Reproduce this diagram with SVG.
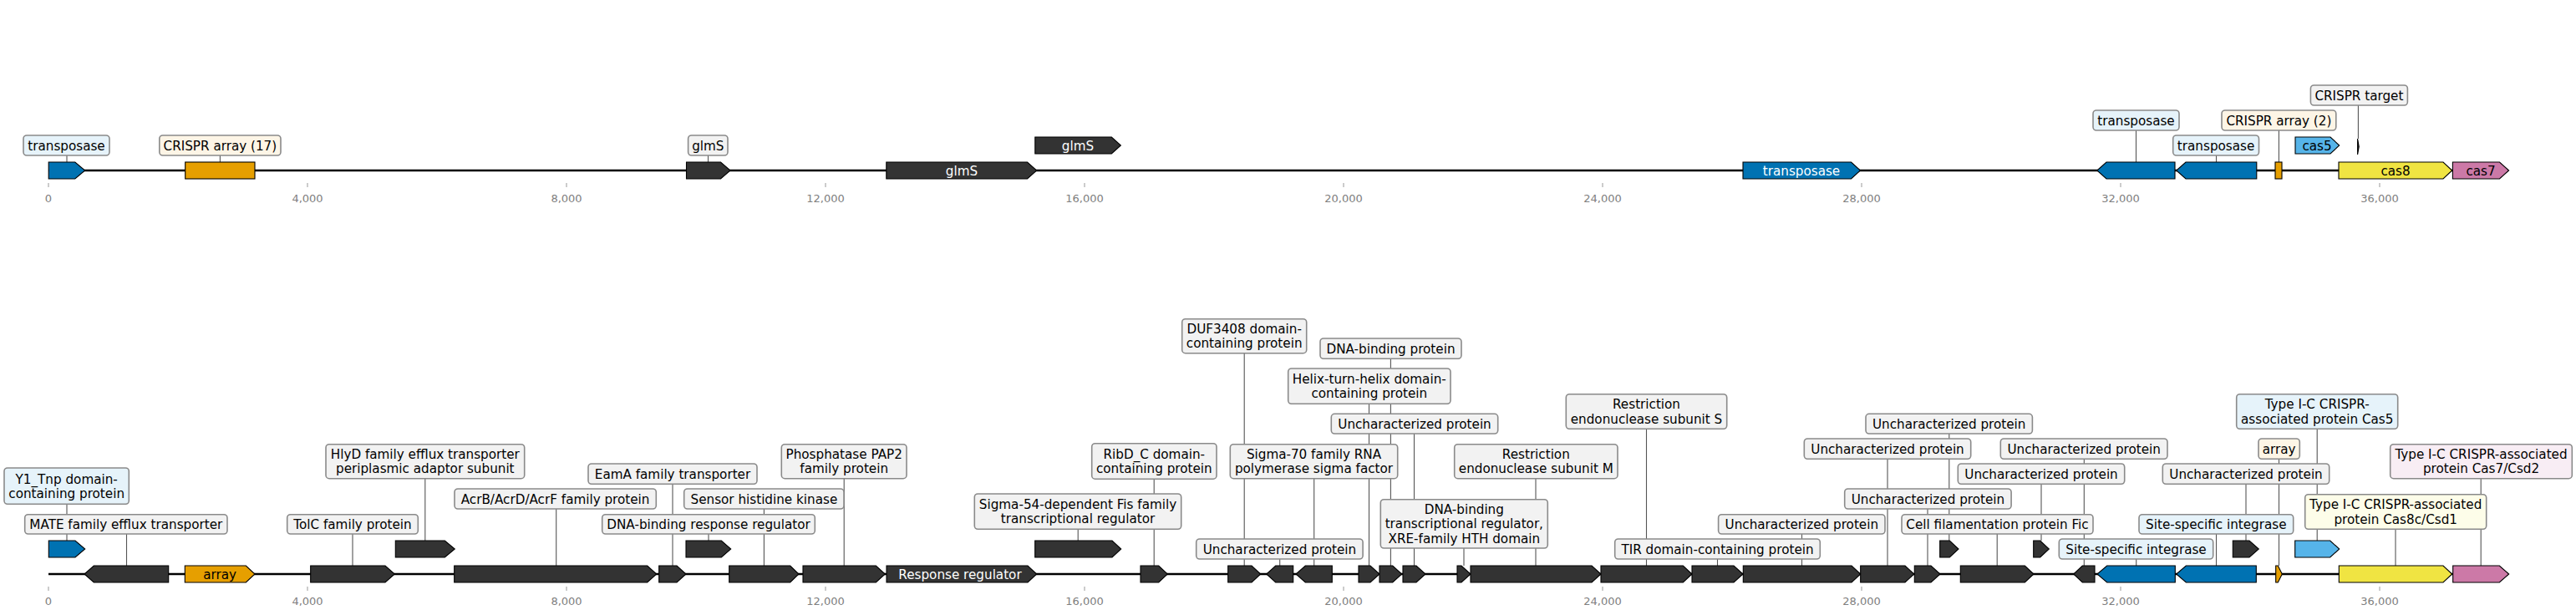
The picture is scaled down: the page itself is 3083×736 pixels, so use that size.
<svg xmlns="http://www.w3.org/2000/svg" width="3083" height="736" viewBox="0 0 3083 736">
<style>
text{font-family:"DejaVu Sans","Liberation Sans",sans-serif}
.g{stroke:#000;stroke-width:1.1;stroke-linejoin:miter}
.dark{fill:#333333}.blue{fill:#0072B2}.orange{fill:#E69F00}.lblue{fill:#56B4E9}.yellow{fill:#F0E442}.pink{fill:#CC79A7}
.box{stroke:#8a8a8a;stroke-width:1.6;fill:#f2f2f2}
.bb{fill:#e6f3fa}.bc{fill:#fdf5e6}.by{fill:#fdfde9}.bp{fill:#f8edf4}
.lbl{font-size:15.2px;text-anchor:middle;fill:#000}
.w{fill:#fff}
.leader{stroke:#555;stroke-width:1.1;fill:none}
.axis{stroke:#000;stroke-width:2.6}
.tick{stroke:#999;stroke-width:1}
.tl{font-size:13px;text-anchor:middle;fill:#808080}
</style>
<rect width="3083" height="736" fill="#fff"/>

<g id="axes">
<line class="axis" x1="58" y1="204" x2="3002" y2="204"/>
<line class="axis" x1="58" y1="687" x2="3002" y2="687"/>
<g class="tick">
<line x1="58" y1="219" x2="58" y2="224"/><line x1="368" y1="219" x2="368" y2="224"/><line x1="678" y1="219" x2="678" y2="224"/><line x1="988" y1="219" x2="988" y2="224"/><line x1="1298" y1="219" x2="1298" y2="224"/><line x1="1608" y1="219" x2="1608" y2="224"/><line x1="1918" y1="219" x2="1918" y2="224"/><line x1="2228" y1="219" x2="2228" y2="224"/><line x1="2538" y1="219" x2="2538" y2="224"/><line x1="2848" y1="219" x2="2848" y2="224"/>
<line x1="58" y1="702" x2="58" y2="707"/><line x1="368" y1="702" x2="368" y2="707"/><line x1="678" y1="702" x2="678" y2="707"/><line x1="988" y1="702" x2="988" y2="707"/><line x1="1298" y1="702" x2="1298" y2="707"/><line x1="1608" y1="702" x2="1608" y2="707"/><line x1="1918" y1="702" x2="1918" y2="707"/><line x1="2228" y1="702" x2="2228" y2="707"/><line x1="2538" y1="702" x2="2538" y2="707"/><line x1="2848" y1="702" x2="2848" y2="707"/>
</g>
<g class="tl">
<text x="58" y="241.5">0</text><text x="368" y="241.5">4,000</text><text x="678" y="241.5">8,000</text><text x="988" y="241.5">12,000</text><text x="1298" y="241.5">16,000</text><text x="1608" y="241.5">20,000</text><text x="1918" y="241.5">24,000</text><text x="2228" y="241.5">28,000</text><text x="2538" y="241.5">32,000</text><text x="2848" y="241.5">36,000</text>
<text x="58" y="724">0</text><text x="368" y="724">4,000</text><text x="678" y="724">8,000</text><text x="988" y="724">12,000</text><text x="1298" y="724">16,000</text><text x="1608" y="724">20,000</text><text x="1918" y="724">24,000</text><text x="2228" y="724">28,000</text><text x="2538" y="724">32,000</text><text x="2848" y="724">36,000</text>
</g>
</g>

<g id="connectors" class="leader">
<line x1="80" y1="186" x2="80" y2="194"/>
<line x1="263.4" y1="186" x2="263.4" y2="194"/>
<line x1="847.5" y1="186" x2="847.5" y2="194"/>
<line x1="2556.5" y1="156" x2="2556.5" y2="194"/>
<line x1="2652.5" y1="186" x2="2652.5" y2="194"/>
<line x1="2727.4" y1="156" x2="2727.4" y2="194"/>
<line x1="2822.4" y1="126" x2="2822.4" y2="166"/>

<line x1="80" y1="603" x2="80" y2="647"/>
<line x1="151.5" y1="639" x2="151.5" y2="677"/>
<line x1="422" y1="639" x2="422" y2="677"/>
<line x1="508.8" y1="572.7" x2="508.8" y2="647"/>
<line x1="665.7" y1="609" x2="665.7" y2="677"/>
<line x1="805" y1="579.3" x2="805" y2="677"/>
<line x1="848" y1="639" x2="848" y2="647"/>
<line x1="914.4" y1="609" x2="914.4" y2="677"/>
<line x1="1010.2" y1="572.7" x2="1010.2" y2="677"/>
<line x1="1290.2" y1="633.3" x2="1290.2" y2="647"/>
<line x1="1381.2" y1="572.7" x2="1381.2" y2="677"/>
<line x1="1489.2" y1="422.7" x2="1489.2" y2="677"/>
<line x1="1531.7" y1="669" x2="1531.7" y2="677"/>
<line x1="1572.7" y1="572.7" x2="1572.7" y2="677"/>
<line x1="1638.5" y1="483.3" x2="1638.5" y2="677"/>
<line x1="1664.4" y1="429.3" x2="1664.4" y2="677"/>
<line x1="1692.5" y1="519" x2="1692.5" y2="677"/>
<line x1="1752" y1="656" x2="1752" y2="677"/>
<line x1="1838" y1="572.7" x2="1838" y2="677"/>
<line x1="1970.5" y1="513.3" x2="1970.5" y2="677"/>
<line x1="2055.5" y1="669" x2="2055.5" y2="677"/>
<line x1="2156.5" y1="639" x2="2156.5" y2="677"/>
<line x1="2259" y1="549.3" x2="2259" y2="677"/>
<line x1="2307" y1="609" x2="2307" y2="677"/>
<line x1="2332.8" y1="519" x2="2332.8" y2="647"/>
<line x1="2390.2" y1="639" x2="2390.2" y2="677"/>
<line x1="2443" y1="579.3" x2="2443" y2="647"/>
<line x1="2494.3" y1="549.3" x2="2494.3" y2="677"/>
<line x1="2556.7" y1="669" x2="2556.7" y2="677"/>
<line x1="2652.5" y1="639" x2="2652.5" y2="677"/>
<line x1="2688" y1="579.3" x2="2688" y2="647"/>
<line x1="2727.5" y1="549.3" x2="2727.5" y2="677"/>
<line x1="2773.2" y1="513.3" x2="2773.2" y2="647"/>
<line x1="2867" y1="633.3" x2="2867" y2="677"/>
<line x1="2969.2" y1="572.7" x2="2969.2" y2="677"/>
</g>

<!-- TOP TRACK -->
<g id="t-transposase-1">
<polygon class="g blue" points="58.2,194 89.8,194 101.7,204 89.8,214 58.2,214"/>
<rect class="box bb" x="28" y="162" width="103" height="24" rx="4"/>
<text class="lbl" x="79.5" y="179.5">transposase</text>
</g>
<g id="t-crispr-array-17">
<rect class="g orange" x="221.7" y="194" width="83.3" height="20"/>
<rect class="box bc" x="190.8" y="162" width="145.2" height="24" rx="4"/>
<text class="lbl" x="263.4" y="179.5">CRISPR array (17)</text>
</g>
<g id="t-glmS-1">
<polygon class="g dark" points="821.5,194 862.5,194 874,204 862.5,214 821.5,214"/>
<rect class="box" x="823.6" y="162" width="47.4" height="24" rx="4"/>
<text class="lbl" x="847.3" y="179.5">glmS</text>
</g>
<g id="t-glmS-2">
<polygon class="g dark" points="1060.8,194 1229.5,194 1240.7,204 1229.5,214 1060.8,214"/>
<text class="lbl w" x="1151" y="209.5">glmS</text>
</g>
<g id="t-glmS-3">
<polygon class="g dark" points="1238.8,164 1330.3,164 1341.4,174 1330.3,184 1238.8,184"/>
<text class="lbl w" x="1290" y="179.5">glmS</text>
</g>
<g id="t-transposase-2">
<polygon class="g blue" points="2086,194 2215.5,194 2226.5,204 2215.5,214 2086,214"/>
<text class="lbl w" x="2156" y="209.5">transposase</text>
</g>
<g id="t-transposase-3">
<polygon class="g blue" points="2603,194 2521,194 2509.8,204 2521,214 2603,214"/>
<rect class="box bb" x="2505" y="132" width="103" height="24" rx="4"/>
<text class="lbl" x="2556.5" y="149.5">transposase</text>
</g>
<g id="t-transposase-4">
<polygon class="g blue" points="2700.8,194 2616,194 2604.7,204 2616,214 2700.8,214"/>
<rect class="box bb" x="2600.7" y="162" width="102.8" height="24" rx="4"/>
<text class="lbl" x="2652.1" y="179.5">transposase</text>
</g>
<g id="t-crispr-array-2">
<rect class="g orange" x="2723" y="194" width="8" height="20"/>
<rect class="box bc" x="2659" y="132" width="136.8" height="24" rx="4"/>
<text class="lbl" x="2727.4" y="149.5">CRISPR array (2)</text>
</g>
<g id="t-cas5">
<polygon class="g lblue" points="2747,164 2789,164 2799.7,174 2789,184 2747,184"/>
<text class="lbl" x="2773" y="179.5">cas5</text>
</g>
<g id="t-crispr-target">
<polygon class="g dark" points="2821.6,166 2823.2,175.5 2821.6,185"/>
<rect class="box" x="2765.4" y="102" width="116" height="24" rx="4"/>
<text class="lbl" x="2823.4" y="119.5">CRISPR target</text>
</g>
<g id="t-cas8">
<polygon class="g yellow" points="2799,194 2924,194 2934.7,204 2924,214 2799,214"/>
<text class="lbl" x="2867" y="209.5">cas8</text>
</g>
<g id="t-cas7">
<polygon class="g pink" points="2935.4,194 2991.5,194 3002.6,204 2991.5,214 2935.4,214"/>
<text class="lbl" x="2969" y="209.5">cas7</text>
</g>

<!-- BOTTOM TRACK -->
<g id="b-y1tnp">
<polygon class="g blue" points="58.3,647 90,647 101.7,657 90,667 58.3,667"/>
<rect class="box bb" x="5" y="560" width="149.3" height="43.3" rx="4"/>
<text class="lbl" x="79.7" y="578.5">Y1_Tnp domain-</text>
<text class="lbl" x="79.7" y="595.9">containing protein</text>
</g>
<g id="b-mate">
<polygon class="g dark" points="201.7,677 112.3,677 101,687 112.3,697 201.7,697"/>
<rect class="box" x="29.7" y="615.7" width="242.3" height="23.3" rx="4"/>
<text class="lbl" x="150.8" y="632.9">MATE family efflux transporter</text>
</g>
<g id="b-array">
<polygon class="g orange" points="221.3,677 294.3,677 305,687 294.3,697 221.3,697"/>
<text class="lbl" x="263.2" y="692.5">array</text>
</g>
<g id="b-tolc">
<polygon class="g dark" points="371.7,677 461,677 472.3,687 461,697 371.7,697"/>
<rect class="box" x="343.7" y="615.7" width="156.6" height="23.3" rx="4"/>
<text class="lbl" x="422" y="632.9">TolC family protein</text>
</g>
<g id="b-hlyd">
<polygon class="g dark" points="473.3,647 532.3,647 544.3,657 532.3,667 473.3,667"/>
<rect class="box" x="390" y="531.7" width="237.7" height="41" rx="4"/>
<text class="lbl" x="508.8" y="549">HlyD family efflux transporter</text>
<text class="lbl" x="508.8" y="566.4">periplasmic adaptor subunit</text>
</g>
<g id="b-acrb">
<polygon class="g dark" points="543.7,677 774.7,677 785.7,687 774.7,697 543.7,697"/>
<rect class="box" x="544" y="585" width="241.3" height="24" rx="4"/>
<text class="lbl" x="664.6" y="602.5">AcrB/AcrD/AcrF family protein</text>
</g>
<g id="b-eama">
<polygon class="g dark" points="788.7,677 810,677 821,687 810,697 788.7,697"/>
<rect class="box" x="704" y="555" width="202" height="24.3" rx="4"/>
<text class="lbl" x="805" y="572.7">EamA family transporter</text>
</g>
<g id="b-dnabinding-rr">
<polygon class="g dark" points="821,647 863.3,647 874.7,657 863.3,667 821,667"/>
<rect class="box" x="720.7" y="615.7" width="254.6" height="23.3" rx="4"/>
<text class="lbl" x="848" y="632.9">DNA-binding response regulator</text>
</g>
<g id="b-sensor">
<polygon class="g dark" points="872.7,677 945.7,677 956,687 945.7,697 872.7,697"/>
<rect class="box" x="818.7" y="585" width="191.3" height="24" rx="4"/>
<text class="lbl" x="914.4" y="602.5">Sensor histidine kinase</text>
</g>
<g id="b-pap2">
<polygon class="g dark" points="961,677 1048.3,677 1059.3,687 1048.3,697 961,697"/>
<rect class="box" x="935.3" y="531.7" width="149.7" height="41" rx="4"/>
<text class="lbl" x="1010.2" y="549">Phosphatase PAP2</text>
<text class="lbl" x="1010.2" y="566.4">family protein</text>
</g>
<g id="b-response-regulator">
<polygon class="g dark" points="1061,677 1230,677 1240.7,687 1230,697 1061,697"/>
<text class="lbl w" x="1149" y="692.5">Response regulator</text>
</g>
<g id="b-sigma54">
<polygon class="g dark" points="1238.7,647 1331,647 1341.7,657 1331,667 1238.7,667"/>
<rect class="box" x="1166.3" y="591" width="247.4" height="42.3" rx="4"/>
<text class="lbl" x="1290" y="609">Sigma-54-dependent Fis family</text>
<text class="lbl" x="1290" y="626.4">transcriptional regulator</text>
</g>
<g id="b-ribd">
<polygon class="g dark" points="1365,677 1386.7,677 1397.3,687 1386.7,697 1365,697"/>
<rect class="box" x="1306.7" y="530.7" width="149.3" height="42.5" rx="4"/>
<text class="lbl" x="1381.3" y="548.5">RibD_C domain-</text>
<text class="lbl" x="1381.3" y="565.9">containing protein</text>
</g>
<g id="b-duf3408">
<polygon class="g dark" points="1469.7,677 1498,677 1508.7,687 1498,697 1469.7,697"/>
<rect class="box" x="1414.7" y="381.7" width="149" height="41" rx="4"/>
<text class="lbl" x="1489.2" y="399">DUF3408 domain-</text>
<text class="lbl" x="1489.2" y="416.4">containing protein</text>
</g>
<g id="b-unchar-1">
<polygon class="g dark" points="1547.7,677 1526.7,677 1515.7,687 1526.7,697 1547.7,697"/>
<rect class="box" x="1431.7" y="645" width="199.4" height="24" rx="4"/>
<text class="lbl" x="1531.4" y="662.5">Uncharacterized protein</text>
</g>
<g id="b-sigma70">
<polygon class="g dark" points="1594.3,677 1562.3,677 1551,687 1562.3,697 1594.3,697"/>
<rect class="box" x="1472.3" y="531.7" width="200.4" height="41" rx="4"/>
<text class="lbl" x="1572.5" y="549">Sigma-70 family RNA</text>
<text class="lbl" x="1572.5" y="566.4">polymerase sigma factor</text>
</g>
<g id="b-hth">
<polygon class="g dark" points="1626,677 1640,677 1651,687 1640,697 1626,697"/>
<rect class="box" x="1541.7" y="441" width="194.3" height="42.3" rx="4"/>
<text class="lbl" x="1638.8" y="459">Helix-turn-helix domain-</text>
<text class="lbl" x="1638.8" y="476.4">containing protein</text>
</g>
<g id="b-dnabinding-protein">
<polygon class="g dark" points="1651,677 1666.7,677 1677.7,687 1666.7,697 1651,697"/>
<rect class="box" x="1580" y="405" width="169" height="24.3" rx="4"/>
<text class="lbl" x="1664.5" y="422.7">DNA-binding protein</text>
</g>
<g id="b-unchar-2">
<polygon class="g dark" points="1679,677 1695,677 1706,687 1695,697 1679,697"/>
<rect class="box" x="1593.3" y="495.3" width="199.4" height="23.7" rx="4"/>
<text class="lbl" x="1693" y="512.7">Uncharacterized protein</text>
</g>
<g id="b-xre">
<polygon class="g dark" points="1744,677 1749,677 1760,687 1749,697 1744,697"/>
<rect class="box" x="1652.3" y="597.7" width="200" height="58.3" rx="4"/>
<text class="lbl" x="1752.3" y="615">DNA-binding</text>
<text class="lbl" x="1752.3" y="632.4">transcriptional regulator,</text>
<text class="lbl" x="1752.3" y="649.8">XRE-family HTH domain</text>
</g>
<g id="b-restriction-m">
<polygon class="g dark" points="1760,677 1905,677 1916,687 1905,697 1760,697"/>
<rect class="box" x="1740.7" y="531.7" width="195.3" height="41" rx="4"/>
<text class="lbl" x="1838.3" y="549">Restriction</text>
<text class="lbl" x="1838.3" y="566.4">endonuclease subunit M</text>
</g>
<g id="b-restriction-s">
<polygon class="g dark" points="1916,677 2014.3,677 2025,687 2014.3,697 1916,697"/>
<rect class="box" x="1874.3" y="471.7" width="192.4" height="41.6" rx="4"/>
<text class="lbl" x="1970.5" y="489.3">Restriction</text>
<text class="lbl" x="1970.5" y="506.7">endonuclease subunit S</text>
</g>
<g id="b-tir">
<polygon class="g dark" points="2025,677 2075,677 2086,687 2075,697 2025,697"/>
<rect class="box" x="1932.7" y="645" width="245.6" height="24" rx="4"/>
<text class="lbl" x="2055.5" y="662.5">TIR domain-containing protein</text>
</g>
<g id="b-unchar-3">
<polygon class="g dark" points="2086.3,677 2216,677 2226.7,687 2216,697 2086.3,697"/>
<rect class="box" x="2056.6" y="615.7" width="199.4" height="23.3" rx="4"/>
<text class="lbl" x="2156.3" y="632.9">Uncharacterized protein</text>
</g>
<g id="b-unchar-4">
<polygon class="g dark" points="2226.7,677 2280,677 2290.7,687 2280,697 2226.7,697"/>
<rect class="box" x="2159.3" y="525" width="199.4" height="24.3" rx="4"/>
<text class="lbl" x="2259" y="542.7">Uncharacterized protein</text>
</g>
<g id="b-unchar-5">
<polygon class="g dark" points="2291.3,677 2311,677 2322,687 2311,697 2291.3,697"/>
<rect class="box" x="2207.7" y="585" width="199.4" height="24" rx="4"/>
<text class="lbl" x="2307.4" y="602.5">Uncharacterized protein</text>
</g>
<g id="b-unchar-6">
<polygon class="g dark" points="2321.7,647 2333.3,647 2344,657 2333.3,667 2321.7,667"/>
<rect class="box" x="2233" y="495.3" width="199.4" height="23.7" rx="4"/>
<text class="lbl" x="2332.7" y="512.7">Uncharacterized protein</text>
</g>
<g id="b-fic">
<polygon class="g dark" points="2346.3,677 2423.3,677 2434,687 2423.3,697 2346.3,697"/>
<rect class="box" x="2276" y="615.7" width="229" height="23.3" rx="4"/>
<text class="lbl" x="2390.5" y="632.9">Cell filamentation protein Fic</text>
</g>
<g id="b-unchar-7">
<polygon class="g dark" points="2433.7,647 2441.7,647 2452.3,657 2441.7,667 2433.7,667"/>
<rect class="box" x="2343.3" y="555" width="199.4" height="24.3" rx="4"/>
<text class="lbl" x="2443" y="572.7">Uncharacterized protein</text>
</g>
<g id="b-unchar-8">
<polygon class="g dark" points="2507,677 2492.3,677 2481.7,687 2492.3,697 2507,697"/>
<rect class="box" x="2394.3" y="525" width="199.7" height="24.3" rx="4"/>
<text class="lbl" x="2494.2" y="542.7">Uncharacterized protein</text>
</g>
<g id="b-integrase-1">
<polygon class="g blue" points="2603.3,677 2521.7,677 2510,687 2521.7,697 2603.3,697"/>
<rect class="box bb" x="2464.3" y="645" width="184.4" height="24" rx="4"/>
<text class="lbl" x="2556.5" y="662.5">Site-specific integrase</text>
</g>
<g id="b-integrase-2">
<polygon class="g blue" points="2700.3,677 2616.3,677 2604.7,687 2616.3,697 2700.3,697"/>
<rect class="box bb" x="2560" y="615.7" width="184.7" height="23.3" rx="4"/>
<text class="lbl" x="2652.3" y="632.9">Site-specific integrase</text>
</g>
<g id="b-unchar-9">
<polygon class="g dark" points="2672.3,647 2692,647 2703.3,657 2692,667 2672.3,667"/>
<rect class="box" x="2588.3" y="555" width="199.4" height="24.3" rx="4"/>
<text class="lbl" x="2688" y="572.7">Uncharacterized protein</text>
</g>
<g id="b-array-2">
<polygon class="g orange" points="2723.7,677 2726.3,677 2731.3,687 2726.3,697 2723.7,697"/>
<rect class="box bc" x="2703" y="525" width="49.3" height="24.3" rx="4"/>
<text class="lbl" x="2727.6" y="542.7">array</text>
</g>
<g id="b-cas5">
<polygon class="g lblue" points="2746.7,647 2788.7,647 2799.7,657 2788.7,667 2746.7,667"/>
<rect class="box bb" x="2676.7" y="471.7" width="193" height="41.6" rx="4"/>
<text class="lbl" x="2773.2" y="489.3">Type I-C CRISPR-</text>
<text class="lbl" x="2773.2" y="506.7">associated protein Cas5</text>
</g>
<g id="b-cas8c">
<polygon class="g yellow" points="2799.3,677 2924,677 2934.7,687 2924,697 2799.3,697"/>
<rect class="box by" x="2758.7" y="591.7" width="217" height="41.6" rx="4"/>
<text class="lbl" x="2867.2" y="609.3">Type I-C CRISPR-associated</text>
<text class="lbl" x="2867.2" y="626.7">protein Cas8c/Csd1</text>
</g>
<g id="b-cas7">
<polygon class="g pink" points="2935.7,677 2991.3,677 3002.7,687 2991.3,697 2935.7,697"/>
<rect class="box bp" x="2860.7" y="531.7" width="217.6" height="41" rx="4"/>
<text class="lbl" x="2969.5" y="549">Type I-C CRISPR-associated</text>
<text class="lbl" x="2969.5" y="566.4">protein Cas7/Csd2</text>
</g>
</svg>
